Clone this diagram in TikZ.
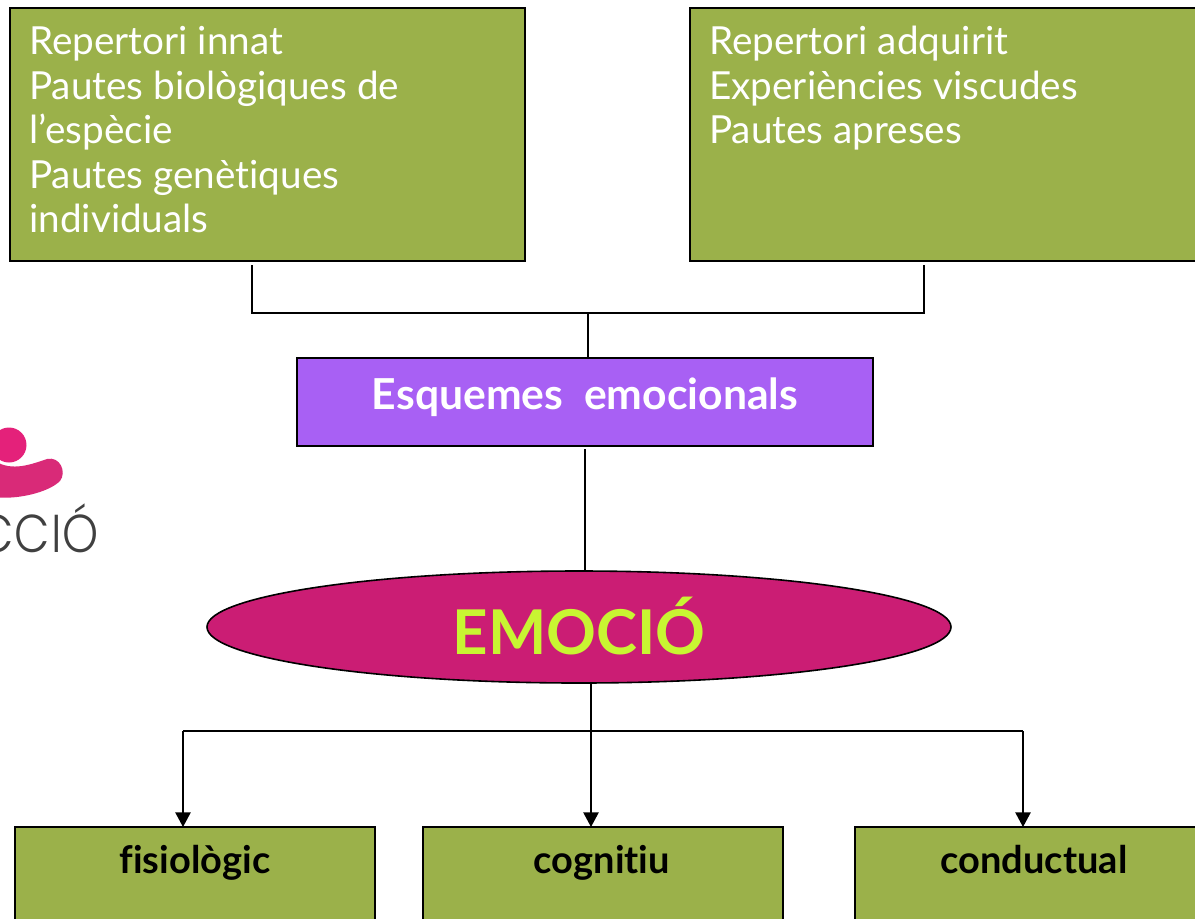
\documentclass[tikz,border=0pt]{standalone}
\usepackage{fontspec}
\setmainfont{Lato}[Ligatures=NoCommon]
\newfontfamily\logofont{Poppins Light}[LetterSpace=2]
\usetikzlibrary{shapes.geometric,arrows.meta}
\definecolor{boxgreen}{HTML}{9BB14A}
\definecolor{boxpurple}{HTML}{A860F4}
\definecolor{emomag}{HTML}{CB1D74}
\definecolor{emoyel}{HTML}{C8F532}
\definecolor{logopink}{HTML}{E4217A}
\definecolor{logoblob}{HTML}{D92A78}
\tikzset{
  px/.style={x=0.75pt,y=-0.75pt},
  plainbox/.style={draw=black,line width=1.2pt,inner sep=0pt,outer sep=0pt},
  lowerbox/.style={plainbox,fill=boxgreen,minimum width=270pt,minimum height=75pt},
  boxtext/.style={text=white,font=\fontsize{29}{33.4}\selectfont,align=left,anchor=north west,inner sep=0pt},
  smalltext/.style={text=black,font=\fontsize{28.5}{30}\bfseries\selectfont,anchor=base,inner sep=0pt},
  link/.style={draw=black,line width=1.3pt},
  thick link/.style={draw=black,line width=2pt},
  arrowlink/.style={draw=black,line width=1.1pt,-{Triangle[length=11pt,width=11.5pt]}}
}
\begin{document}
\begin{tikzpicture}[px]
\useasboundingbox (0,0) rectangle (1195,918);
\clip (0,0) rectangle (1195,918);
% logo
\fill[logopink] (9,445) circle (17.5);
\fill[logoblob] (-5,461) .. controls (12,472) and (32,464) .. (47,459)
  .. controls (60,456) and (67,472) .. (60,481) .. controls (48,493) and (15,500) .. (-5,497) -- cycle;
\node[anchor=base east,inner sep=0pt,text=black!75] (logotext) at (99,552) {\scalebox{0.86}[1]{\logofont\fontsize{40}{40}\selectfont CCIÓ}};
% boxes
\path[draw=black,line width=1.2pt,fill=boxgreen] (10,8) rectangle (525,261);
\path[draw=black,line width=1.2pt,fill=boxgreen] (690,8) rectangle (1205,261);
\node[boxtext] (innat) at (29,26) {Repertori innat\\Pautes biològiques de\\l’espècie\\Pautes genètiques\\individuals};
\node[boxtext] (adquirit) at (709,26) {Repertori adquirit\\Experiències viscudes\\Pautes apreses};
\node[plainbox,fill=boxpurple,minimum width=432pt,minimum height=66pt] (esquemes) at (585,402) {};
\node[text=white,font=\fontsize{32}{34}\bfseries\selectfont,inner sep=0pt,anchor=base] (esqtext) at (585,409) {Esquemes\ \ emocionals};
\node[ellipse,plainbox,fill=emomag,minimum width=558pt,minimum height=84pt] (emocio) at (579,627) {};
\node[text=emoyel,font=\fontsize{46.3}{48}\bfseries\selectfont,inner sep=0pt,anchor=base] (emotext) at (579,654) {EMOCIÓ};
\node[lowerbox] (fis) at (195,877) {};
\node[lowerbox] (cog) at (603,877) {};
\node[lowerbox] (con) at (1035,877) {};
\node[smalltext] (fistext) at (195,873) {fisiològic};
\node[smalltext] (cogtext) at (602,873) {cognitiu};
\node[smalltext] (context) at (1034,873) {conductual};
% connectors
\coordinate (a1) at (252,265);
\coordinate (a2) at (252,313);
\coordinate (a3) at (924,313);
\coordinate (a4) at (924,265);
\coordinate (a5) at (588,313);
\coordinate (a6) at (585,449);
\coordinate (e1) at (591,683);
\coordinate (e2) at (183,731);
\coordinate (e3) at (1023,731);
\draw[thick link] (a1) -- (a2) -- (a3) -- (a4);
\draw[link] (a5) -- (a5 |- esquemes.north);
\draw[link] (a6) -- (a6 |- emocio.north);
\draw[arrowlink] (e1) -- (e1 |- cog.north);
\draw[link] (e2) -- (e3);
\draw[arrowlink] (e2) -- (e2 |- fis.north);
\draw[arrowlink] (e3) -- (e3 |- con.north);
\end{tikzpicture}
\end{document}
